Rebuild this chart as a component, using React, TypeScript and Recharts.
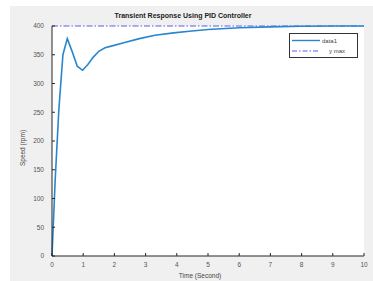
import React from 'react';
import { LineChart, Line, XAxis, YAxis, CartesianGrid } from 'recharts';

const time = [0, 0.1, 0.22, 0.35, 0.49, 0.65, 0.81, 0.98, 1.15, 1.31, 1.5, 1.7, 1.9, 2.3, 2.8, 3.3, 3.9, 4.4, 5, 6, 7, 8, 9, 10];
const speed = [0, 130, 255, 350, 378, 355, 330, 323, 333, 345, 356, 362, 365, 371, 378, 384, 388, 391, 394, 397, 398.5, 399.5, 400, 400];
const yMaxValue = [400, 400, 400, 400, 400, 400, 400, 400, 400, 400, 400, 400, 400, 400, 400, 400, 400, 400, 400, 400, 400, 400, 400, 400];
const xTicks = [0, 1, 2, 3, 4, 5, 6, 7, 8, 9, 10];
const yTicks = [0, 50, 100, 150, 200, 250, 300, 350, 400];
const seriesNames = ['data1', 'y max'];

const rows = time.map((t, i) => ({ t, speed: speed[i], ymax: yMaxValue[i] }));

const FONT = '"Liberation Sans", Arial, sans-serif';
const tickStyle = { fontSize: 6.5, fill: '#555', stroke: 'none', fontFamily: FONT };
const LINE_COLOR = '#2a86cc';
const MAX_COLOR = '#5c5cf0';

const LegendBox = () => (
  <svg width={69} height={25} style={{ display: 'block' }}>
    <rect x={0.5} y={0.5} width={68} height={24} fill="#fff" stroke="#333" strokeWidth={1} />
    <line x1={3} x2={31} y1={7.5} y2={7.5} stroke={LINE_COLOR} strokeWidth={1.4} />
    <text x={33} y={9.5} fontSize={6} fill="#444" fontFamily={FONT}>{seriesNames[0]}</text>
    <line x1={3} x2={31} y1={18} y2={18} stroke={MAX_COLOR} strokeWidth={1} strokeDasharray="5 2 1.5 2" />
    <text x={40} y={20} fontSize={6} fill="#444" fontFamily={FONT}>{seriesNames[1]}</text>
  </svg>
);

export default function App() {
  return (
    <div style={{ position: 'fixed', left: 0, top: 0, width: 373, height: 281, background: '#fff', overflow: 'hidden' }}>
      <div style={{ position: 'absolute', left: 10, top: 6, width: 363, height: 275, background: '#f0f0f0' }} />
      <div style={{ position: 'absolute', left: 0, top: 0 }}>
        <LineChart width={373} height={281} data={rows} margin={{ top: 26, right: 9, bottom: 0, left: 10 }}>
          <CartesianGrid horizontal={false} vertical={false} fill="#ffffff" />
          <XAxis
            xAxisId="b"
            dataKey="t"
            type="number"
            domain={[0, 10]}
            ticks={xTicks}
            height={25}
            tickSize={-3}
            tickMargin={9}
            axisLine={{ stroke: '#262626' }}
            tickLine={{ stroke: '#262626' }}
            tick={tickStyle}
            interval={0}
          />
          <XAxis
            xAxisId="top"
            orientation="top"
            dataKey="t"
            type="number"
            domain={[0, 10]}
            ticks={xTicks}
            height={0}
            tickSize={-3}
            axisLine={{ stroke: '#262626' }}
            tickLine={{ stroke: '#262626' }}
            tick={false}
            interval={0}
          />
          <YAxis
            yAxisId="l"
            type="number"
            domain={[0, 400]}
            ticks={yTicks}
            width={42}
            tickSize={-3}
            tickMargin={11}
            axisLine={{ stroke: '#262626' }}
            tickLine={{ stroke: '#262626' }}
            tick={tickStyle}
            interval={0}
          />
          <YAxis
            yAxisId="r"
            orientation="right"
            type="number"
            domain={[0, 400]}
            ticks={yTicks}
            width={0}
            tickSize={-3}
            axisLine={{ stroke: '#262626' }}
            tickLine={{ stroke: '#262626' }}
            tick={false}
            interval={0}
          />
          <Line
            xAxisId="b"
            yAxisId="l"
            dataKey="ymax"
            name={seriesNames[1]}
            stroke={MAX_COLOR}
            strokeWidth={1}
            strokeDasharray="6 2 1.5 2"
            dot={false}
            type="linear"
            isAnimationActive={false}
          />
          <Line
            xAxisId="b"
            yAxisId="l"
            dataKey="speed"
            name={seriesNames[0]}
            stroke={LINE_COLOR}
            strokeWidth={1.6}
            dot={false}
            type="linear"
            isAnimationActive={false}
          />
        </LineChart>
      </div>
      <div style={{ position: 'absolute', left: 289, top: 33 }}>
        <LegendBox />
      </div>
      <svg width={373} height={281} style={{ position: 'absolute', left: 0, top: 0, pointerEvents: 'none' }}>
        <text x={183} y={18} textAnchor="middle" fontSize={7} fontWeight="bold" fill="#222" fontFamily={FONT}>
          Transient Response Using PID Controller
        </text>
        <text x={200} y={278} textAnchor="middle" fontSize={6.5} fill="#444" fontFamily={FONT}>
          Time (Second)
        </text>
        <text
          x={25}
          y={148}
          textAnchor="middle"
          fontSize={6.5}
          fill="#444"
          fontFamily={FONT}
          transform="rotate(-90 25 148)"
        >
          Speed (rpm)
        </text>
      </svg>
    </div>
  );
}
